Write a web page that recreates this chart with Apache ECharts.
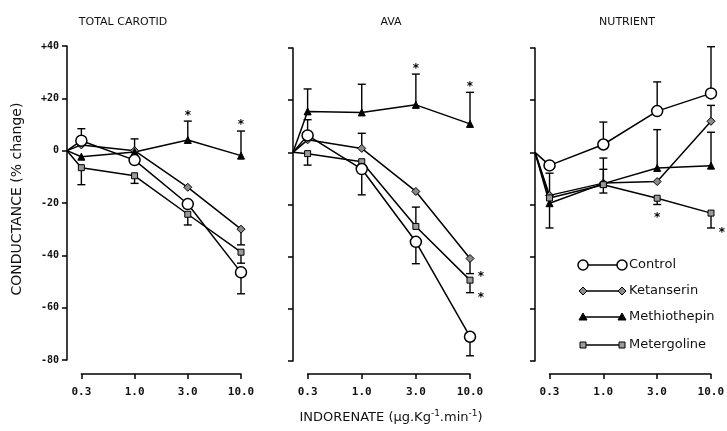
<!DOCTYPE html>
<html><head><meta charset="utf-8">
<script src="https://cdn.jsdelivr.net/npm/echarts@6/dist/echarts.min.js"></script>
<style>html,body{margin:0;background:#fff}#c{width:727px;height:431px}</style>
</head><body><div id="c"></div>
<script>
// Dose levels (x axis tick labels) and panel titles
const doses = ['0.3', '1.0', '3.0', '10.0'];
const panelTitles = ['TOTAL CAROTID', 'AVA', 'NUTRIENT'];
const drugs = ['Control', 'Ketanserin', 'Methiothepin', 'Metergoline'];
// every curve starts from 0 % at the origin, left of the first dose
const originX = -0.27;

// Mean conductance change (%) at each dose
const carotidControl      = [3.8, -3.6, -20.4, -46.5];
const carotidKetanserin   = [2.2, 0, -14, -30];
const carotidMethiothepin = [-2.3, -0.5, 4.1, -1.9];
const carotidMetergoline  = [-6.5, -9.6, -24.3, -38.8];

const avaControl      = [6.5, -6.4, -34.3, -70.7];
const avaKetanserin   = [4.8, 1.5, -15, -40.7];
const avaMethiothepin = [15.7, 15.3, 18.2, 10.9];
const avaMetergoline  = [-0.5, -3.6, -28.4, -49];

const nutrientControl      = [-5, 3, 15.8, 22.6];
const nutrientKetanserin   = [-16.5, -11.8, -11.2, 11.9];
const nutrientMethiothepin = [-19.5, -12, -6, -5.1];
const nutrientMetergoline  = [-17.5, -12.4, -17.6, -23.3];

// Error bar end points (null: no bar drawn)
const carotidControlErr      = [8.4, null, null, -54.7];
const carotidKetanserinErr   = [null, 4.5, null, -36];
const carotidMethiothepinErr = [null, null, 11.3, 7.5];
const carotidMetergolineErr  = [-13, -12.5, -28.4, -43];

const avaControlErr      = [12.5, -16.3, -42.7, -78];
const avaKetanserinErr   = [null, 7.3, null, -46.5];
const avaMethiothepinErr = [24.3, 26.1, 30, 23];
const avaMetergolineErr  = [-4.9, null, -21, -53.8];

const nutrientControlErr      = [null, 11.6, 27, 40.5];
const nutrientKetanserinErr   = [-8, -6.5, null, 18];
const nutrientMethiothepinErr = [-29, -2.2, 8.7, 7.7];
const nutrientMetergolineErr  = [null, -15.6, -20, -29];

// Significance asterisks: [dose index, value]; "side" ones sit right of the bar
const carotidStars = [[2, 14.5], [3, 11]];
const carotidStarsSide = [];
const avaStars = [[2, 33.3], [3, 26.3]];
const avaStarsSide = [[3, -46.5], [3, -54.6]];
const nutrientStars = [[2, -23.8]];
const nutrientStarsSide = [[3, -29.6]];

const panels = [
  { means: [carotidControl, carotidKetanserin, carotidMethiothepin, carotidMetergoline],
    errs: [carotidControlErr, carotidKetanserinErr, carotidMethiothepinErr, carotidMetergolineErr],
    stars: carotidStars, side: carotidStarsSide },
  { means: [avaControl, avaKetanserin, avaMethiothepin, avaMetergoline],
    errs: [avaControlErr, avaKetanserinErr, avaMethiothepinErr, avaMetergolineErr],
    stars: avaStars, side: avaStarsSide },
  { means: [nutrientControl, nutrientKetanserin, nutrientMethiothepin, nutrientMetergoline],
    errs: [nutrientControlErr, nutrientKetanserinErr, nutrientMethiothepinErr, nutrientMetergolineErr],
    stars: nutrientStars, side: nutrientStarsSide }
];

// Panel frames: left = y axis position, right = last dose
const layout = [
  { left: 67, right: 241, top: 46, height: 314, doseLine: 374, labels: true, titleX: 118 },
  { left: 293, right: 470, top: 48, height: 313, doseLine: 374, labels: false, titleX: 386 },
  { left: 535, right: 711, top: 48, height: 313, doseLine: 374, labels: false, titleX: 622 }
];

const markStyles = [
  { symbol: 'circle', symbolSize: 11, itemStyle: { color: '#fff', borderColor: '#000', borderWidth: 1.5 }, z: 6 },
  { symbol: 'diamond', symbolSize: 8, itemStyle: { color: '#8a8a8a', borderColor: '#000', borderWidth: 1 }, z: 5 },
  { symbol: 'triangle', symbolSize: 7, itemStyle: { color: '#000', borderColor: '#000', borderWidth: 1 }, z: 5 },
  { symbol: 'rect', symbolSize: 6, itemStyle: { color: '#9a9a9a', borderColor: '#000', borderWidth: 1 }, z: 5 }
];

const tickFont = { fontFamily: 'DejaVu Sans Mono', fontWeight: 'bold', fontSize: 11, color: '#111' };
const ink = { color: '#000', width: 1.5 };

const grid = [], xAxis = [], yAxis = [], series = [], title = [];

layout.forEach((L, p) => {
  const width = L.right - L.left;
  // plotting frame
  grid.push({ left: L.left, top: L.top, width: width, height: L.height });
  // dose axis frame: starts at the first dose, sits below the plot
  const unit = width / (3 - originX);
  const doseLeft = L.left - originX * unit;
  grid.push({ left: doseLeft, top: L.doseLine - 1, width: L.right - doseLeft, height: 1 });

  title.push({ text: panelTitles[p], left: L.titleX, top: 12, textAlign: 'center',
    textStyle: { fontFamily: 'DejaVu Sans', fontWeight: 'normal', fontSize: 11, color: '#111' } });

  xAxis.push({
    gridIndex: 2 * p, type: 'value', min: originX, max: 3, show: false
  });
  xAxis.push({
    gridIndex: 2 * p + 1, type: 'value', min: 0, max: 3, interval: 1, position: 'bottom',
    axisLine: { show: true, onZero: false, lineStyle: ink },
    axisTick: { show: true, length: 5, lineStyle: ink },
    axisLabel: Object.assign({ margin: 13, formatter: v => doses[v] }, tickFont),
    splitLine: { show: false }
  });
  yAxis.push({
    gridIndex: 2 * p, type: 'value', min: -80, max: 40, interval: 20, position: 'left',
    axisLine: { show: true, onZero: false, lineStyle: ink },
    axisTick: { show: true, length: 5, lineStyle: ink },
    axisLabel: Object.assign({}, tickFont, { show: L.labels, fontSize: 10, margin: 8,
      formatter: v => (v > 0 ? '+' + v : String(v)) }),
    splitLine: { show: false }
  });
  yAxis.push({ gridIndex: 2 * p + 1, type: 'value', min: 0, max: 1, show: false });

  const xi = 2 * p, yi = 2 * p;
  const P = panels[p];
  // error bars
  const errData = [];
  P.means.forEach((m, s) => {
    P.errs[s].forEach((e, i) => { if (e !== null) errData.push([i, m[i], e]); });
  });
  series.push({
    type: 'custom', xAxisIndex: xi, yAxisIndex: yi, z: 3, clip: false,
    data: errData,
    renderItem: (params, api) => {
      const a = api.coord([api.value(0), api.value(1)]);
      const b = api.coord([api.value(0), api.value(2)]);
      const st = { stroke: '#000', lineWidth: 1.4 };
      return { type: 'group', children: [
        { type: 'line', shape: { x1: a[0], y1: a[1], x2: b[0], y2: b[1] }, style: st },
        { type: 'line', shape: { x1: b[0] - 4, y1: b[1], x2: b[0] + 4, y2: b[1] }, style: st }
      ] };
    }
  });
  // dose-response curves
  P.means.forEach((m, s) => {
    const data = [{ value: [originX, 0], symbol: 'none' }].concat(m.map((v, i) => [i, v]));
    series.push(Object.assign({
      type: 'line', name: drugs[s], xAxisIndex: xi, yAxisIndex: yi, clip: false,
      data: data, showSymbol: true, animation: false,
      lineStyle: { color: '#000', width: 1.5 }
    }, markStyles[s]));
  });
  // asterisks
  const starData = P.stars.map(d => [d[0], d[1], 0]).concat(P.side.map(d => [d[0], d[1], 1]));
  series.push({
    type: 'custom', xAxisIndex: xi, yAxisIndex: yi, z: 7, clip: false,
    data: starData,
    renderItem: (params, api) => {
      const c = api.coord([api.value(0), api.value(1)]);
      return { type: 'text', x: c[0] + (api.value(2) ? 11 : 0), y: c[1] + 3,
        style: { text: '*', font: 'bold 12px DejaVu Sans', fill: '#000', align: 'center', verticalAlign: 'middle' } };
    }
  });
});

// legend drawn inside the nutrient panel
const legendRows = [265, 291, 317, 345];
const extraGraphics = [];
function legendSymbol(s, cx, cy) {
  const st = markStyles[s];
  const style = { fill: st.itemStyle.color, stroke: '#000', lineWidth: st.itemStyle.borderWidth };
  if (s === 0) return { type: 'circle', shape: { cx, cy, r: 5 }, style, z: 12 };
  if (s === 1) return { type: 'polygon', shape: { points: [[cx, cy - 4], [cx + 4, cy], [cx, cy + 4], [cx - 4, cy]] }, style, z: 12 };
  if (s === 2) return { type: 'polygon', shape: { points: [[cx, cy - 4], [cx + 4, cy + 3], [cx - 4, cy + 3]] }, style, z: 12 };
  return { type: 'rect', shape: { x: cx - 3, y: cy - 3, width: 6, height: 6 }, style, z: 12 };
}
drugs.forEach((d, s) => {
  const y = legendRows[s];
  extraGraphics.push({ type: 'line', shape: { x1: 583, y1: y, x2: 622, y2: y }, style: { stroke: '#000', lineWidth: 1.5 }, z: 11 });
  extraGraphics.push(legendSymbol(s, 583, y));
  extraGraphics.push(legendSymbol(s, 622, y));
  extraGraphics.push({ type: 'text', x: 629, y: y, style: { text: d, font: '13px DejaVu Sans', fill: '#111', verticalAlign: 'middle' }, z: 12 });
});

// axis titles
extraGraphics.push({
  type: 'text', x: 17, y: 199, rotation: Math.PI / 2,
  style: { text: 'CONDUCTANCE (% change)', font: '14px DejaVu Sans', fill: '#111', align: 'center', verticalAlign: 'middle' }
});
extraGraphics.push({
  type: 'text', x: 391, y: 418,
  style: {
    text: '{m|INDORENATE (μg.Kg}{s|-1}{m|.min}{s|-1}{m|)}',
    align: 'center', verticalAlign: 'middle',
    rich: {
      m: { font: '13px DejaVu Sans', fill: '#111' },
      s: { font: '9px DejaVu Sans', fill: '#111', verticalAlign: 'top', padding: [0, 0, 8, 0] }
    }
  }
});

const chart = echarts.init(document.getElementById('c'), null, { renderer: 'canvas' });
chart.setOption({
  animation: false,
  backgroundColor: '#fff',
  title, grid, xAxis, yAxis, series,
  graphic: extraGraphics
});
</script>
</body></html>
